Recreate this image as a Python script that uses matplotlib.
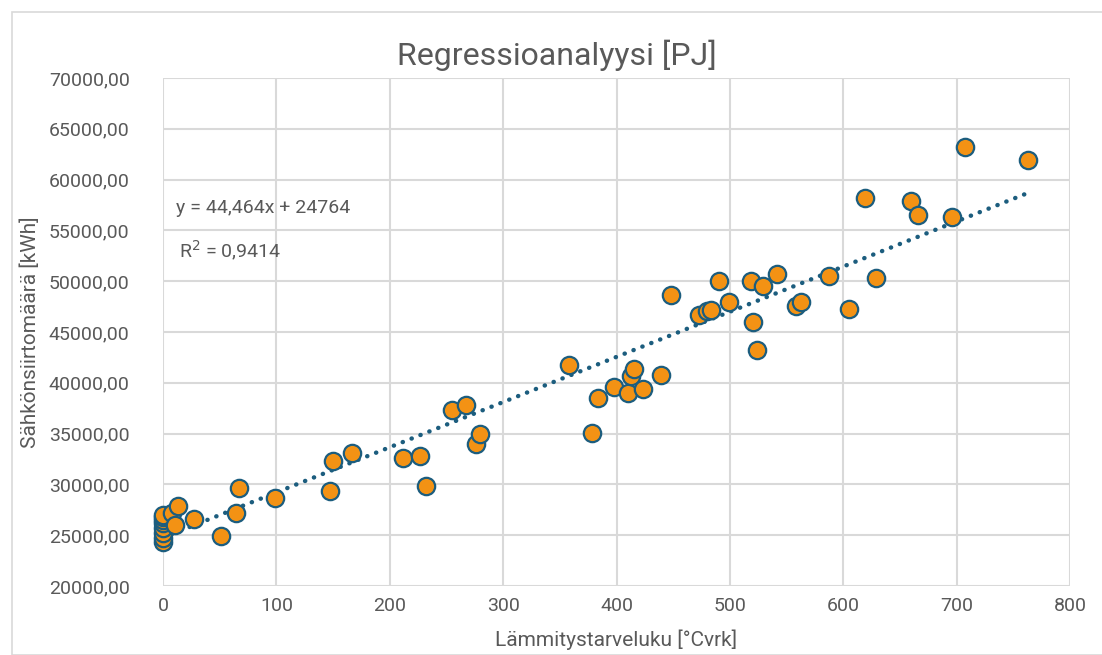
#!/usr/bin/env python3
"""Regression scatter: electricity transfer vs heating degree days."""

import matplotlib
matplotlib.use("Agg")
import matplotlib.pyplot as plt
from matplotlib.patches import Rectangle
from matplotlib.ticker import FuncFormatter, MultipleLocator
import numpy as np

# heating degree days [°Cvrk]
degree_days = [
    0, 0, 0, 0, 0, 0, 0, 0,
    8, 11, 13, 27, 51, 64, 67, 99,
    147, 150, 167, 212, 227, 232, 255, 267, 276, 280,
    358, 378, 384, 398, 410, 413, 415, 423, 439, 448,
    473, 480, 483, 490, 499, 519, 520, 524, 529, 542,
    558, 563, 587, 605, 619, 629, 660, 666, 696, 707, 763,
]
# electricity transfer [kWh]
transfer_kwh = [
    24300, 24700, 25200, 25700, 26200, 26500, 26800, 27000,
    27200, 26000, 27900, 26600, 24950, 27200, 29650, 28650,
    29350, 32300, 33100, 32600, 32800, 29850, 37350, 37850, 33950, 34950,
    41800, 35100, 38500, 39600, 39000, 40650, 41400, 39400, 40800, 48650,
    46700, 47100, 47200, 50000, 47950, 50000, 46000, 43250, 49500, 50750,
    47550, 47950, 50500, 47250, 58200, 50350, 57900, 56550, 56350, 63200, 61900,
]

slope = 44.464
intercept = 24764
r_squared = 0.9414

GRID = "#D9D9D9"
TEXT = "#595959"
FACE = "#F39214"
EDGE = "#1C5D7E"

plt.rcParams["font.family"] = ["Roboto", "DejaVu Sans"]

fig = plt.figure(figsize=(11.02, 6.55), dpi=100)
ax = fig.add_axes([163 / 1102, 1 - 586 / 655, (1070 - 163) / 1102, (586 - 78) / 655])

fig.patches.append(
    Rectangle((12 / 1102, 0), 1.2, 1 - 12 / 655, transform=fig.transFigure,
              fill=False, edgecolor=GRID, linewidth=1.2)
)

x_line = np.array([0, max(degree_days)])
ax.plot(x_line, slope * x_line + intercept, linestyle=(0, (0.05, 2.1)),
        color=EDGE, linewidth=3.2, dash_capstyle="round", zorder=2)

ax.plot(degree_days, transfer_kwh, "o", markersize=12.5, markerfacecolor=FACE,
        markeredgecolor=EDGE, markeredgewidth=1.6, linestyle="none", zorder=3,
        clip_on=False)

ax.set_xlim(0, 800)
ax.set_ylim(20000, 70000)
ax.xaxis.set_major_locator(MultipleLocator(100))
ax.yaxis.set_major_locator(MultipleLocator(5000))
ax.yaxis.set_major_formatter(FuncFormatter(lambda v, _: f"{v:.2f}".replace(".", ",")))
ax.grid(True, color=GRID, linewidth=1.5)
ax.set_axisbelow(True)
for spine in ax.spines.values():
    spine.set_visible(False)
ax.tick_params(length=0, labelsize=14, colors=TEXT, pad=8)
ax.tick_params(axis="y", pad=24)

fig.text(557 / 1102, 1 - 55 / 655, "Regressioanalyysi [PJ]", fontsize=23,
         color=TEXT, ha="center", va="center")
ax.set_xlabel("Lämmitystarveluku [°Cvrk]", fontsize=15, color=TEXT, labelpad=10)
ax.set_ylabel("Sähkönsiirtomäärä [kWh]", fontsize=15, color=TEXT, labelpad=6)

ax.text(0.014, 0.745, f"y = {slope:.3f}x + {intercept}".replace(".", ","),
        transform=ax.transAxes, fontsize=14, color=TEXT, va="center")
ax.text(0.018, 0.66, f"R$^2$ = {r_squared:.4f}".replace(".", ","),
        transform=ax.transAxes, fontsize=14, color=TEXT, va="center")

fig.savefig("out.png", dpi=100)
